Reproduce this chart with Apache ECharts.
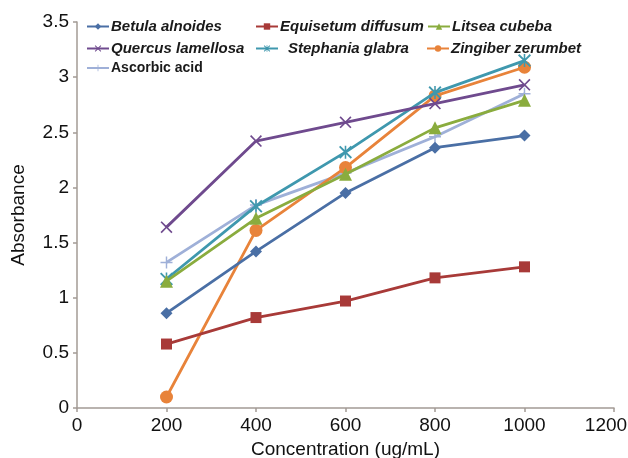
<!DOCTYPE html>
<html>
<head>
<meta charset="utf-8">
<script src="https://cdn.jsdelivr.net/npm/echarts@6/dist/echarts.min.js"></script>
<style>html,body{margin:0;padding:0;background:#fff}#c{width:628px;height:458px}</style>
</head>
<body>
<div id="c"></div>
<script>
var concentrations = [200, 400, 600, 800, 1000];
var betula = [0.86, 1.42, 1.95, 2.36, 2.47];
var equisetum = [0.58, 0.82, 0.97, 1.18, 1.28];
var litsea = [1.15, 1.72, 2.12, 2.54, 2.79];
var quercus = [1.64, 2.42, 2.59, 2.76, 2.93];
var stephania = [1.17, 1.83, 2.32, 2.86, 3.15];
var zingiber = [0.10, 1.61, 2.18, 2.83, 3.09];
var ascorbic = [1.32, 1.84, 2.13, 2.46, 2.85];
var seriesNames = ['Betula alnoides', 'Equisetum diffusum', 'Litsea cubeba', 'Quercus lamellosa', 'Stephania glabra', 'Zingiber zerumbet', 'Ascorbic acid'];
var seriesData = [betula, equisetum, litsea, quercus, stephania, zingiber, ascorbic];

var colors = ['#4a6fa5', '#a83a38', '#8aac3e', '#6f4a8e', '#3f98ae', '#e8833a', '#9fb0d8'];
var X_PATH = 'path://M0,1 L1,0 L5,4 L9,0 L10,1 L6,5 L10,9 L9,10 L5,6 L1,10 L0,9 L4,5 Z';
var PLUS_PATH = 'path://M4.4,0 L5.6,0 L5.6,4.4 L10,4.4 L10,5.6 L5.6,5.6 L5.6,10 L4.4,10 L4.4,5.6 L0,5.6 L0,4.4 L4.4,4.4 Z';
var STAR_PATH = 'path://M0,1 L1,0 L5,4 L9,0 L10,1 L6,5 L10,9 L9,10 L5,6 L1,10 L0,9 L4,5 Z M4.4,0 L5.6,0 L5.6,10 L4.4,10 Z';
var symbols = ['diamond', 'rect', 'triangle', X_PATH, STAR_PATH, 'circle', PLUS_PATH];
var symbolSizes = [12, 11, 13, 12, 13, 13, 12];

var FONT = "'Liberation Sans', Arial, sans-serif";

var series = seriesNames.map(function (n, i) {
  return {
    name: n,
    type: 'line',
    data: concentrations.map(function (x, j) { return [x, seriesData[i][j]]; }),
    symbol: symbols[i],
    symbolSize: symbolSizes[i],
    showAllSymbol: true,
    color: colors[i],
    lineStyle: { width: 2.8, color: colors[i] },
    itemStyle: { color: colors[i] },
    z: 10 - i
  };
});

var legendPos = [
  [86, 19, 0], [255, 19, 0], [427, 19, 0],
  [86, 41, 0], [255, 41, 8], [426, 41, 0],
  [86, 61, 0]
];
var legends = seriesNames.map(function (n, i) {
  var isAsc = i === 6;
  return {
    data: [n],
    left: legendPos[i][0],
    top: legendPos[i][1],
    itemWidth: 22,
    itemHeight: 8,
    padding: 0,
    selectedMode: false,
    textStyle: {
      fontFamily: FONT,
      fontSize: isAsc ? 14 : 15,
      fontStyle: isAsc ? 'normal' : 'italic',
      fontWeight: 'bold',
      color: '#1a1a1a',
      padding: [0, 0, 0, legendPos[i][2] - 3]
    }
  };
});

var yfmt = function (v) { return String(v); };
var xfmt = function (v) { return v === 1200 ? '{m|' + v + '}' : String(v); };

var chart = echarts.init(document.getElementById('c'));
chart.setOption({
  animation: false,
  backgroundColor: '#fff',
  legend: legends,
  grid: { left: 77, right: 14, top: 22, bottom: 50, containLabel: false, outerBoundsMode: 'none' },
  xAxis: {
    type: 'value',
    min: 0, max: 1200, interval: 200,
    name: 'Concentration (ug/mL)',
    nameLocation: 'middle',
    nameGap: 32,
    nameTextStyle: { fontFamily: FONT, fontSize: 19, color: '#111' },
    axisLine: { show: true, lineStyle: { color: '#a39b95', width: 1.5 } },
    axisTick: { show: true, length: 4, lineStyle: { color: '#a39b95', width: 1.5 } },
    axisLabel: {
      fontFamily: FONT, fontSize: 19, color: '#111', margin: 8, formatter: xfmt,
      rich: { m: { fontFamily: FONT, fontSize: 19, color: '#111', padding: [0, 16, 0, 0] } }
    },
    splitLine: { show: false }
  },
  yAxis: {
    type: 'value',
    min: 0, max: 3.5, interval: 0.5,
    name: 'Absorbance',
    nameLocation: 'middle',
    nameGap: 49,
    nameTextStyle: { fontFamily: FONT, fontSize: 19, color: '#111' },
    axisLine: { show: true, lineStyle: { color: '#a39b95', width: 1.5 } },
    axisTick: { show: true, length: 4, lineStyle: { color: '#a39b95', width: 1.5 } },
    axisLabel: { fontFamily: FONT, fontSize: 19, color: '#111', margin: 8, formatter: yfmt },
    splitLine: { show: false }
  },
  series: series
});
</script>
</body>
</html>
